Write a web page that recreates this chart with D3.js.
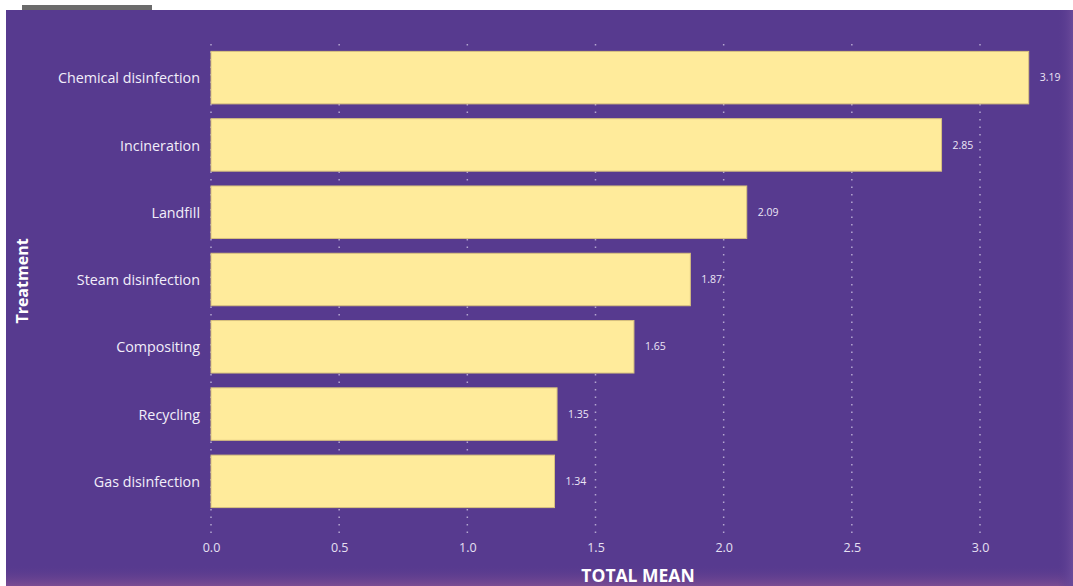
<!DOCTYPE html>
<html><head><meta charset="utf-8">
<script src="https://cdn.jsdelivr.net/npm/d3@7"></script>
<style>body{margin:0;background:#fff;}svg{display:block;}</style>
</head><body>
<svg id="c" width="1073" height="586"></svg>
<script>
const categories = ["Chemical disinfection","Incineration","Landfill","Steam disinfection","Compositing","Recycling","Gas disinfection"];
const values = [3.19, 2.85, 2.09, 1.87, 1.65, 1.35, 1.34];
const tickValues = [0.0, 0.5, 1.0, 1.5, 2.0, 2.5, 3.0];
const xTitle = "TOTAL MEAN";
const yTitle = "Treatment";

const svg = d3.select("#c");
const W = 1073, H = 586;
const font = "'Open Sans', Lato, sans-serif";

const defs = svg.append("defs");
const g1 = defs.append("linearGradient").attr("id","bot").attr("x1",0).attr("y1",0).attr("x2",0).attr("y2",1);
g1.append("stop").attr("offset","0%").attr("stop-color","#583a8f").attr("stop-opacity",0);
g1.append("stop").attr("offset","100%").attr("stop-color","#7a4c92").attr("stop-opacity",1);
const g2 = defs.append("linearGradient").attr("id","rgt").attr("x1",0).attr("y1",0).attr("x2",1).attr("y2",0);
g2.append("stop").attr("offset","0%").attr("stop-color","#583a8f").attr("stop-opacity",0);
g2.append("stop").attr("offset","100%").attr("stop-color","#6a4a9a").attr("stop-opacity",1);

svg.append("rect").attr("x",22).attr("y",5).attr("width",130).attr("height",6).attr("fill","#6b6b6b");
svg.append("rect").attr("x",6).attr("y",10).attr("width",W-6).attr("height",H-10).attr("fill","#573a8f");
svg.append("rect").attr("x",6).attr("y",565).attr("width",W-6).attr("height",21).attr("fill","url(#bot)");
svg.append("rect").attr("x",1058).attr("y",10).attr("width",15).attr("height",H-10).attr("fill","url(#rgt)");

const x = d3.scaleLinear().domain([0,3]).range([211,980]);
const y = d3.scaleBand().domain(categories).range([44,515]).paddingInner(0.22).paddingOuter(0.11);

// grid
svg.append("g").selectAll("line").data(tickValues).join("line")
  .attr("x1",d=>x(d)).attr("x2",d=>x(d)).attr("y1",44).attr("y2",538)
  .attr("stroke","#b3a6d0").attr("stroke-width",1.5).attr("stroke-dasharray","1.5,6");

// bars
svg.append("g").selectAll("rect").data(values).join("rect")
  .attr("x",x(0)).attr("y",(d,i)=>y(categories[i]))
  .attr("width",d=>x(d)-x(0)).attr("height",y.bandwidth())
  .attr("fill","#ffeb9b").attr("stroke","#d8c27e").attr("stroke-width",1);

// value labels
svg.append("g").selectAll("text").data(values).join("text")
  .attr("x",d=>x(d)+11).attr("y",(d,i)=>y(categories[i])+y.bandwidth()/2)
  .attr("dy","0.35em").attr("fill","#ece6f6").attr("font-family",font).attr("font-size",10.5)
  .text(d=>d.toFixed(2));

// y axis
const ya = svg.append("g").attr("transform","translate(200,1)")
  .call(d3.axisLeft(y).tickSize(0).tickPadding(0));
ya.select(".domain").remove();
ya.selectAll("text").attr("fill","#f2eefa").attr("font-family",font).attr("font-size",14.3);

// x axis
const xa = svg.append("g").attr("transform","translate(0,538)")
  .call(d3.axisBottom(x).tickValues(tickValues).tickFormat(d3.format(".1f")).tickSize(0).tickPadding(5));
xa.select(".domain").remove();
xa.selectAll("text").attr("fill","#e6e0f2").attr("font-family",font).attr("font-size",12.5);

svg.append("text").attr("x",638).attr("y",582).attr("text-anchor","middle")
  .attr("fill","#ffffff").attr("font-family",font).attr("font-weight","bold").attr("font-size",17.5).text(xTitle);
svg.append("text").attr("transform","translate(28,281) rotate(-90)").attr("text-anchor","middle")
  .attr("fill","#ffffff").attr("font-family",font).attr("font-weight","bold").attr("font-size",16).text(yTitle);
</script>
</body></html>
